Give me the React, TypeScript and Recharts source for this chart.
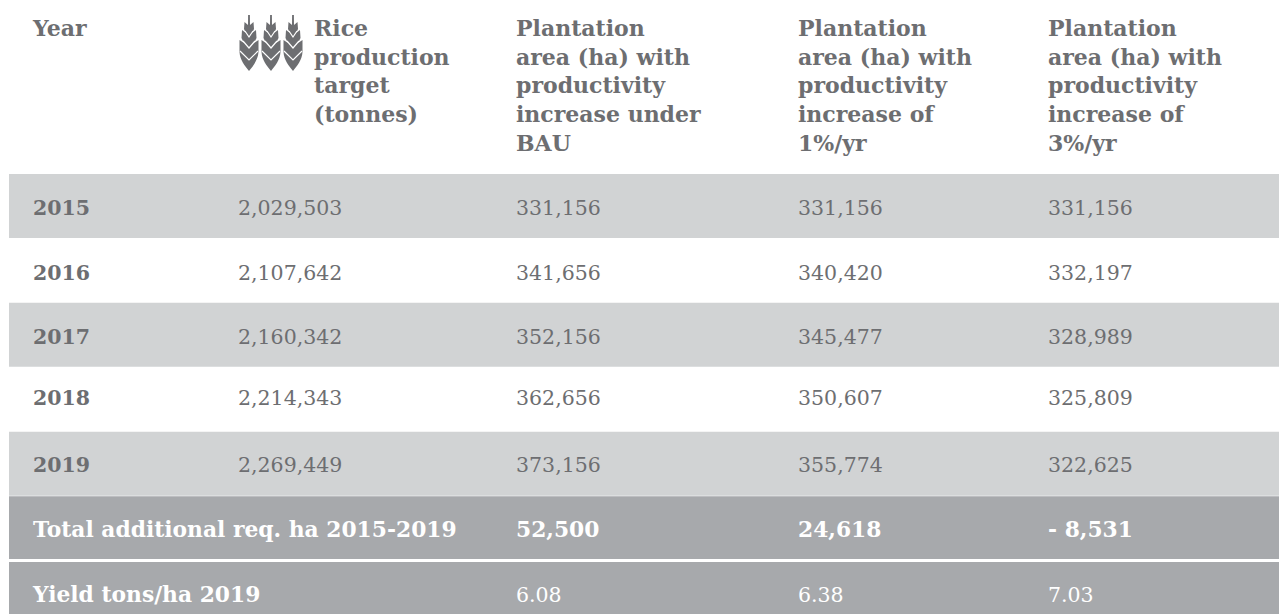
import { BarChart, Bar, Cell, LabelList, ReferenceLine, XAxis, YAxis } from "recharts";

const rowLabels = ["2015", "2016", "2017", "2018", "2019", "Total additional req. ha 2015-2019", "Yield tons/ha 2019"];
const riceTarget = ["2,029,503", "2,107,642", "2,160,342", "2,214,343", "2,269,449", "", ""];
const areaBau = ["331,156", "341,656", "352,156", "362,656", "373,156", "52,500", "6.08"];
const areaOnePct = ["331,156", "340,420", "345,477", "350,607", "355,774", "24,618", "6.38"];
const areaThreePct = ["331,156", "332,197", "328,989", "325,809", "322,625", "- 8,531", "7.03"];

const headers = [
  ["Year"],
  ["Rice", "production", "target", "(tonnes)"],
  ["Plantation", "area (ha) with", "productivity", "increase under", "BAU"],
  ["Plantation", "area (ha) with", "productivity", "increase of", "1%/yr"],
  ["Plantation", "area (ha) with", "productivity", "increase of", "3%/yr"],
];

const rows = rowLabels.map((label, i) => ({
  label,
  rice: riceTarget[i],
  bau: areaBau[i],
  one: areaOnePct[i],
  three: areaThreePct[i],
  band: 1270,
}));

const FONT = "'DejaVu Serif', serif";
const GRAY = "#6d6e71";
const LIGHT = "#d1d3d4";
const DARK = "#a7a9ac";
const bandFills = [LIGHT, "#ffffff", LIGHT, "#ffffff", LIGHT, DARK, DARK];
const columnX = [33, 238, 516, 798, 1048];
// text in the source rows doesn't sit quite centred
const rowNudge = [0, 1, 1, -3, 0, 0, 1];

const cell = (col: number, bold: boolean) => (props: any) => {
  const { y, height, value, index } = props;
  if (!value) return null;
  const dark = index >= 5;
  const isBold = bold || index === 5;
  let size = 20.5;
  if (isBold && dark) size = 21.8;
  else if (bold) size = 20.5;
  return (
    <text
      x={columnX[col]}
      y={y + height / 2 + 8.5 + rowNudge[index]}
      fontFamily={FONT}
      fontSize={size}
      fontWeight={isBold ? 700 : 400}
      fill={dark ? "#ffffff" : GRAY}
    >
      {value}
    </text>
  );
};

function Stalk({ cx }: { cx: number }) {
  return (
    <g transform={`translate(${cx} 0)`}>
      <path
        fill={GRAY}
        d="M-0.9 15 L0.9 15 L1 25 L4.5 22 L5 29 L3 33 L7 30 L7.5 38 L5 43 L9.5 40 L9.5 52 C9 60 4 66 0 71 C-4 66 -9 60 -9.5 52 L-9.5 40 L-5 43 L-7.5 38 L-7 30 L-3 33 L-5 29 L-4.5 22 L-1 25 Z"
      />
      <path
        fill="none"
        stroke="#ffffff"
        strokeWidth={1.2}
        d="M-4 31 L0 37 L4 31 M-6 41 L0 48 L6 41 M-9 51 L0 60 L9 51"
      />
    </g>
  );
}

const headerTick = (props: any) => {
  const { x, index } = props;
  const lines = headers[index];
  const tx = index === 1 ? x + 76 : x;
  return (
    <g>
      {index === 1 && [249, 271, 293].map((cx) => <Stalk key={cx} cx={cx} />)}
      <text fontFamily={FONT} fontSize={22} fontWeight={700} fill={GRAY}>
        {lines.map((line, i) => (
          <tspan key={line + i} x={tx} y={36 + i * 28.7}>
            {line}
          </tspan>
        ))}
      </text>
    </g>
  );
};

export default function App() {
  return (
    <div style={{ position: "fixed", left: 0, top: 0, width: 1279, height: 614, overflow: "hidden", background: "#fff" }}>
      <BarChart
        width={1279}
        height={625}
        layout="vertical"
        data={rows}
        barCategoryGap={0}
        margin={{ top: 144, right: 0, bottom: 0, left: 9 }}
      >
        <XAxis
          type="number"
          orientation="top"
          domain={[0, 1270]}
          height={30}
          ticks={columnX.map((v) => v - 9)}
          interval={0}
          axisLine={false}
          tickLine={false}
          tick={headerTick}
        />
        <YAxis type="category" dataKey="label" width={0} hide />
        <Bar dataKey="band" isAnimationActive={false}>
          {rows.map((r, i) => (
            <Cell key={r.label} fill={bandFills[i]} />
          ))}
          <LabelList dataKey="label" content={cell(0, true)} />
          <LabelList dataKey="rice" content={cell(1, false)} />
          <LabelList dataKey="bau" content={cell(2, false)} />
          <LabelList dataKey="one" content={cell(3, false)} />
          <LabelList dataKey="three" content={cell(4, false)} />
        </Bar>
        <ReferenceLine y={rowLabels[6]} position="start" stroke="#ffffff" strokeWidth={3} />
      </BarChart>
    </div>
  );
}
